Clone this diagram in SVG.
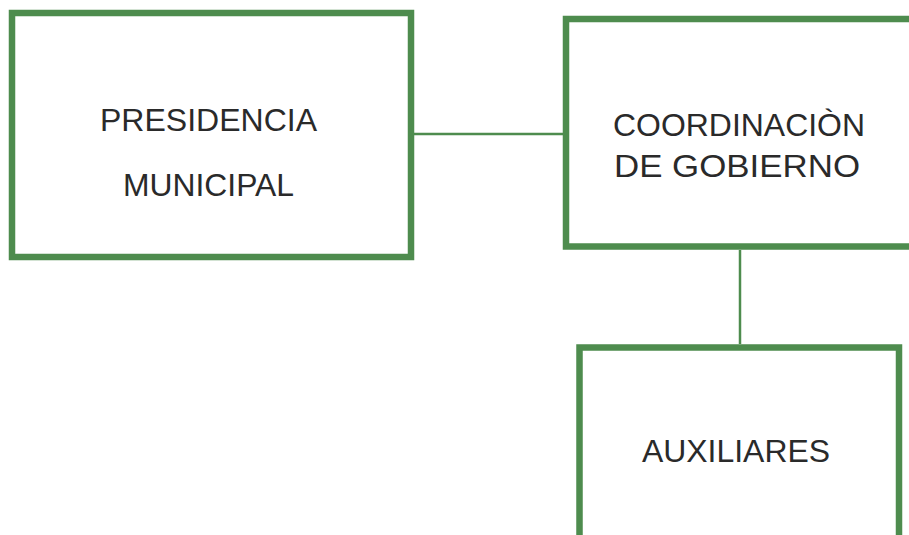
<svg xmlns="http://www.w3.org/2000/svg" width="909" height="535" viewBox="0 0 909 535">
<style>
.box{fill:#fff;stroke:#4e8c4e;stroke-width:6.5}
.conn{stroke:#4e8c4e;stroke-width:2.5;fill:none}
.lbl{font-family:"Liberation Sans",Arial,sans-serif;font-size:32px;fill:#2a2a2a;text-anchor:middle}
</style>
<rect width="909" height="535" fill="#fff"/>
<g id="connectors">
<line class="conn" x1="414" y1="134" x2="563" y2="134"/>
<line class="conn" x1="740" y1="250" x2="740" y2="344"/>
</g>
<g id="presidencia">
<rect class="box" x="12" y="13" width="399" height="244"/>
<text class="lbl" x="208.5" y="131" textLength="217" lengthAdjust="spacingAndGlyphs">PRESIDENCIA</text>
<text class="lbl" x="208.5" y="196" textLength="171" lengthAdjust="spacingAndGlyphs">MUNICIPAL</text>
</g>
<g id="coordinacion">
<rect class="box" x="566" y="19" width="360" height="227.5"/>
<text class="lbl" x="739" y="136" textLength="252" lengthAdjust="spacingAndGlyphs">COORDINACIÒN</text>
<text class="lbl" x="737" y="177" textLength="246" lengthAdjust="spacingAndGlyphs">DE GOBIERNO</text>
</g>
<g id="auxiliares">
<rect class="box" x="579.5" y="347.5" width="319.5" height="220"/>
<text class="lbl" x="736" y="462" textLength="188" lengthAdjust="spacingAndGlyphs">AUXILIARES</text>
</g>
</svg>
